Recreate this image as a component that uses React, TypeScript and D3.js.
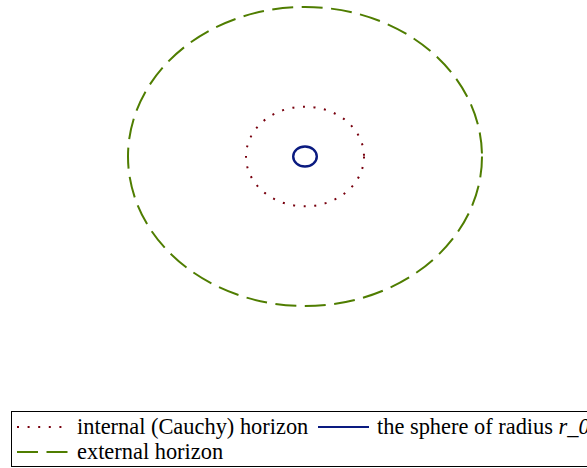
import * as d3 from "d3";

// Horizon radii (plot units) and styling per curve
const curveNames = ["internal (Cauchy) horizon", "the sphere of radius ", "external horizon"];
const curveRadii = [1, 0.2, 3];
const curveColors = ["#78000E", "#0A1A80", "#4F7D00"];
const curveDashes = ["2,8.6", "none", "21,8.5"];
const axisExtent = [-3, 3];

const width = 587;
const height = 468;

const App = () => {
  const x = d3.scaleLinear().domain(axisExtent).range([128, 482]);
  const y = d3.scaleLinear().domain(axisExtent).range([306, 7]);

  // Legend layout: row/column slots for each curve
  const legendSlots = [
    { sx: 17, tx: 77, row: 0 },
    { sx: 318, tx: 377, row: 0 },
    { sx: 17, tx: 77, row: 1 },
  ];
  const rowY = (r: number) => 427 + r * 25;

  return (
    <svg
      width={width}
      height={height}
      style={{ position: "absolute", left: 0, top: 0, background: "#fff" }}
    >
      {curveRadii.map((r, i) => (
        <ellipse
          key={curveNames[i]}
          cx={x(0)}
          cy={y(0)}
          rx={x(r) - x(0)}
          ry={y(0) - y(r)}
          fill="none"
          stroke={curveColors[i]}
          strokeWidth={i === 1 ? 2.4 : 2}
          strokeDasharray={curveDashes[i]}
        />
      ))}

      <rect x={11.5} y={411.5} width={600} height={55} fill="none" stroke="#000" strokeWidth={1} />

      {legendSlots.map((s, i) => (
        <g key={i}>
          <line
            x1={s.sx}
            x2={s.sx + 51}
            y1={rowY(s.row)}
            y2={rowY(s.row)}
            stroke={curveColors[i]}
            strokeWidth={2}
            strokeDasharray={curveDashes[i]}
          />
          <text x={s.tx} y={rowY(s.row) + 6.5} fill="#000" style={{ fontFamily: "Liberation Serif", fontSize: "22.4px" }}>
            {curveNames[i]}
            {i === 1 && <tspan fontStyle="italic">r_0</tspan>}
          </text>
        </g>
      ))}
    </svg>
  );
};

export default App;
